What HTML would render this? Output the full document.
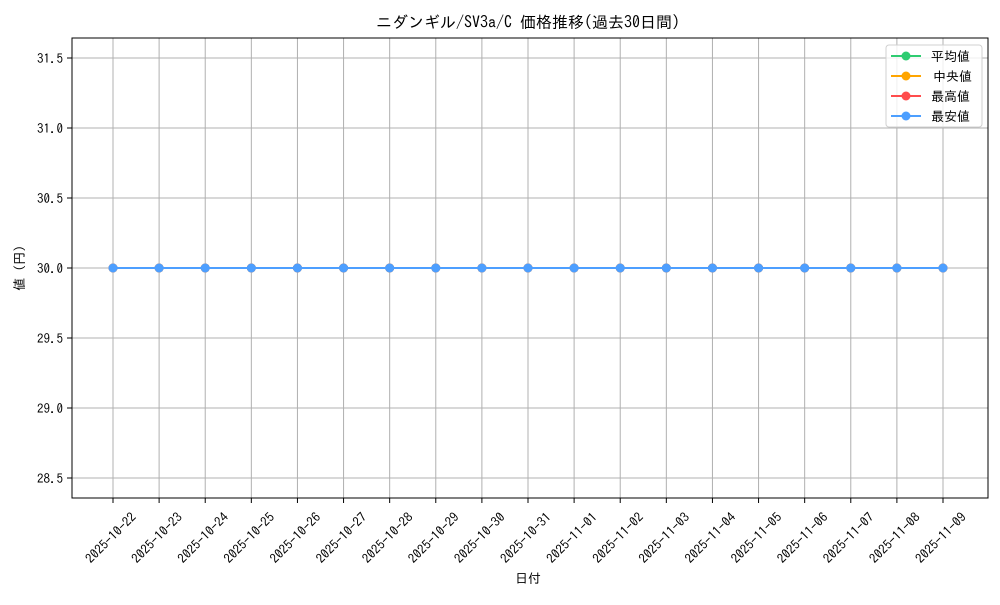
<!DOCTYPE html>
<html><head><meta charset="utf-8"><style>
body{margin:0;background:#fff}
svg{font-family:"IPAGothic","Liberation Sans","Noto Sans CJK JP",sans-serif}
</style></head><body>
<svg width="1000" height="600" xmlns="http://www.w3.org/2000/svg">
<rect width="1000" height="600" fill="#fff"/>
<g id="g" stroke="#b0b0b0" stroke-width="1"></g>
<text x="528" y="28" font-size="16" text-anchor="middle">ニダンギル/SV3a/C 価格推移(過去30日間)</text>
<text x="528" y="583" font-size="13" text-anchor="middle">日付</text>
<text transform="translate(24,268) rotate(-90)" font-size="13" text-anchor="middle">値 (円)</text>
<g id="d"></g>
<rect x="72" y="38" width="916" height="460" fill="none" stroke="#000" stroke-width="1"/>
<g>
<rect x="886" y="45" width="96" height="82" rx="3" fill="#fff" fill-opacity="0.8" stroke="#d0d0d0"/>
<line x1="891" y1="56" x2="921" y2="56" stroke="#2ecc71" stroke-width="2"/><circle cx="906" cy="56" r="4.5" fill="#2ecc71"/>
<text x="931" y="61" font-size="13">平均値</text>
<line x1="891" y1="76" x2="921" y2="76" stroke="#ffa500" stroke-width="2"/><circle cx="906" cy="76" r="4.5" fill="#ffa500"/>
<text x="933" y="81" font-size="13">中央値</text>
<line x1="891" y1="96" x2="921" y2="96" stroke="#ff4d4d" stroke-width="2"/><circle cx="906" cy="96" r="4.5" fill="#ff4d4d"/>
<text x="931" y="101" font-size="13">最高値</text>
<line x1="891" y1="116" x2="921" y2="116" stroke="#4d9fff" stroke-width="2"/><circle cx="906" cy="116" r="4.5" fill="#4d9fff"/>
<text x="931" y="121" font-size="13">最安値</text>
</g>
</svg>
<script>
var ns="http://www.w3.org/2000/svg",g=document.getElementById("g"),d=document.getElementById("d");
function el(p,t,a,txt){var e=document.createElementNS(ns,t);for(var k in a)e.setAttribute(k,a[k]);if(txt)e.textContent=txt;p.appendChild(e);return e;}
var dates=["2025-10-22","2025-10-23","2025-10-24","2025-10-25","2025-10-26","2025-10-27","2025-10-28","2025-10-29","2025-10-30","2025-10-31","2025-11-01","2025-11-02","2025-11-03","2025-11-04","2025-11-05","2025-11-06","2025-11-07","2025-11-08","2025-11-09"];
var pts=[];
dates.forEach(function(s,i){var x=113+i*830/18;
el(g,"line",{x1:x,y1:38,x2:x,y2:498});
el(d,"line",{x1:x,y1:498,x2:x,y2:503,stroke:"#000"});
var ax=x+24,ay=518;
el(d,"text",{x:ax,y:ay,"font-size":13,"text-anchor":"end",transform:"rotate(-45 "+ax+" "+ay+")"},s);
pts.push(x+",268");});
for(var i=0;i<7;i++){var v=31.5-i*0.5,y=58+i*70;
el(g,"line",{x1:72,y1:y,x2:988,y2:y});
el(d,"line",{x1:67,y1:y,x2:72,y2:y,stroke:"#000"});
el(d,"text",{x:63,y:y+5,"font-size":13,"text-anchor":"end"},v.toFixed(1));}
["#2ecc71","#ffa500","#ff4d4d","#4d9fff"].forEach(function(c){
el(d,"polyline",{points:pts.join(" "),fill:"none",stroke:c,"stroke-width":2});
pts.forEach(function(p){var a=p.split(",");el(d,"circle",{cx:a[0],cy:a[1],r:4.5,fill:c});});});
</script>
</body></html>
